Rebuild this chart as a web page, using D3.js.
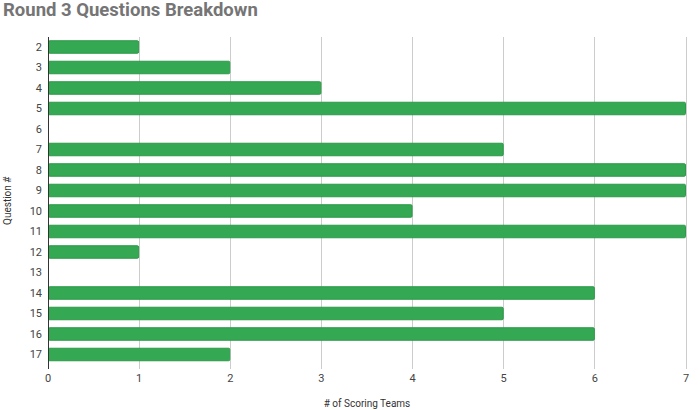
<!DOCTYPE html>
<html><head><meta charset="utf-8">
<script src="https://cdn.jsdelivr.net/npm/d3@7"></script>
<style>body{margin:0;background:#fff;}svg{display:block;font-family:Roboto,sans-serif;}</style>
</head><body>
<svg id="c" width="700" height="410"></svg>
<script>
const categories = ["2","3","4","5","6","7","8","9","10","11","12","13","14","15","16","17"];
const values = [1,2,3,7,0,5,7,7,4,7,1,0,6,5,6,2];
const xTicks = [0,1,2,3,4,5,6,7];

(function(){
const svg = d3.select("#c");
const mLeft = 48, mRight = 686, mTop = 36.75, mBottom = 364.75;
const x = d3.scaleLinear().domain([0,7]).range([mLeft,mRight]);
const y = d3.scaleBand().domain(categories).range([mTop,mBottom]).paddingInner(0.34).paddingOuter(0.17);

svg.append("text").attr("x",3).attr("y",16).attr("font-size",18.5).attr("font-weight","bold")
  .attr("fill","#757575").text("Round 3 Questions Breakdown");

// grid
svg.append("g").selectAll("line").data(xTicks.filter(d=>d>0)).join("line")
  .attr("x1",d=>x(d)).attr("x2",d=>x(d)).attr("y1",mTop).attr("y2",mBottom+4)
  .attr("stroke","#cccccc").attr("stroke-width",1).attr("shape-rendering","crispEdges");

// bars
const data = categories.map((c,i)=>({c,v:values[i]}));
svg.append("g").selectAll("rect").data(data.filter(d=>d.v>0)).join("rect")
  .attr("x",x(0)+0.5).attr("y",d=>y(d.c)+0.5).attr("width",d=>x(d.v)-x(0)-1).attr("height",y.bandwidth()-1)
  .attr("rx",1.2).attr("fill","#34a853").attr("stroke","#2d9a48").attr("stroke-width",1);

// y axis
svg.append("line").attr("x1",mLeft).attr("x2",mLeft).attr("y1",mTop).attr("y2",mBottom+4)
  .attr("stroke","#333").attr("stroke-width",1).attr("shape-rendering","crispEdges");
svg.append("g").selectAll("text").data(categories).join("text")
  .attr("x",mLeft-6).attr("y",d=>y(d)+y.bandwidth()/2).attr("dy","0.35em")
  .attr("text-anchor","end").attr("font-size",11).attr("fill","#444").text(d=>d);

// x tick labels
svg.append("g").selectAll("text").data(xTicks).join("text")
  .attr("x",d=>x(d)).attr("y",382).attr("text-anchor","middle")
  .attr("font-size",11).attr("fill","#444").text(d=>d);

svg.append("text").attr("x",(mLeft+mRight)/2).attr("y",407).attr("text-anchor","middle")
  .attr("font-size",10).attr("fill","#333").text("# of Scoring Teams");
svg.append("text").attr("transform",`translate(11,${(mTop+mBottom)/2}) rotate(-90)`)
  .attr("text-anchor","middle").attr("font-size",10).attr("fill","#333").text("Question #");
})();
</script>
</body></html>
